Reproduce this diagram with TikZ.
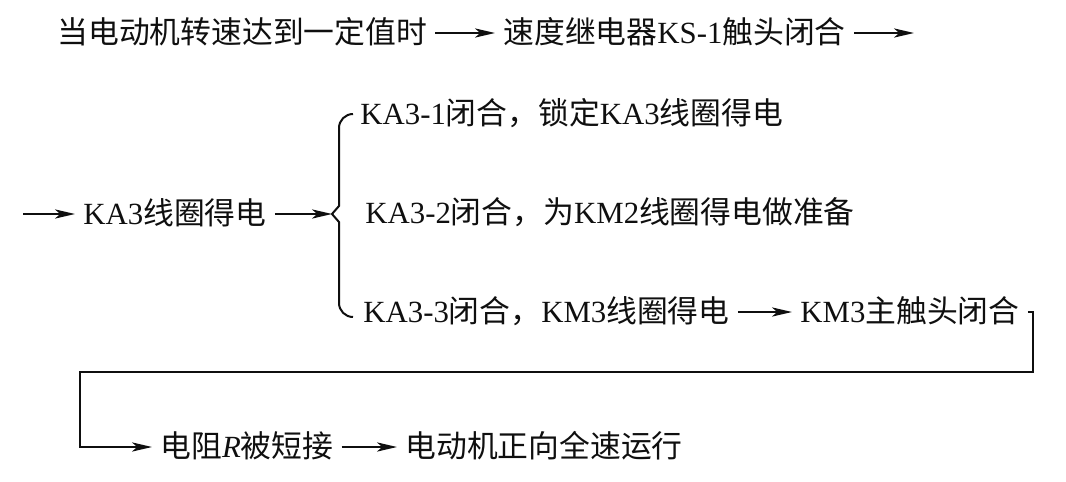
\documentclass[tikz,border=0pt]{standalone}
\usepackage{fontspec}
\usepackage{xcolor}
\usepackage{tikz}
\usetikzlibrary{arrows.meta, positioning, calc}
\setmainfont{Liberation Serif}
\newfontfamily\cjk{Noto Sans CJK SC}
\newcommand{\zh}[1]{{\cjk #1}}
\definecolor{FlowInk}{RGB}{15, 15, 15}

\tikzset{
  flowtxt/.style={inner sep=0pt, inner xsep=4pt, anchor=west,
    text height=13pt, text depth=2.5pt, text=FlowInk,
    font=\fontsize{15.4}{18}\selectfont},
  flowarr/.style={-{Stealth[length=10pt, width=4.6pt, inset=2.6pt]},
    line width=0.9pt, draw=FlowInk}
}

\begin{document}
\begin{tikzpicture}[x=0.5pt, y=-0.5pt]
    \useasboundingbox (0,0) rectangle (1066,482);

    % first row
    \node[flowtxt] (speedup) at (49,33) {\zh{当电动机转速达到一定值时}};
    \node[flowtxt] (ksone) at (495,33) {\zh{速度继电器}KS-1\zh{触头闭合}};
    \coordinate (rowend) at (914,33);
    \draw[flowarr] (speedup) -- (ksone);
    \draw[flowarr] (ksone) -- (rowend);

    % second row with the brace
    \coordinate (rowstart) at (23,214);
    \node[flowtxt] (kacoil) at (75,214) {KA3\zh{线圈得电}};
    \coordinate (tip) at (332,214);
    \draw[flowarr] (rowstart) -- (kacoil);
    \draw[flowarr] (kacoil) -- (tip);
    \draw[line width=1pt, draw=FlowInk]
      (353,114) to[out=180, in=90] (339,128) -- (339,206) -- (tip)
      -- (339,222) -- (339,303) to[out=-90, in=180] (353,317);

    \node[flowtxt] (kaone) at (352,114) {KA3-1\zh{闭合，锁定}KA3\zh{线圈得电}};
    \node[flowtxt] (katwo) at (357,213) {KA3-2\zh{闭合，为}KM2\zh{线圈得电做准备}};
    \node[flowtxt] (kathree) at (355,312) {KA3-3\zh{闭合，}KM3\zh{线圈得电}};
    \node[flowtxt] (kmmain) at (792,312) {KM3\zh{主触头闭合}};
    \draw[flowarr] (kathree) -- (kmmain);

    % return line and last row
    \coordinate (backright) at (1033,372);
    \coordinate (backleft) at (80,372);
    \node[flowtxt] (shorted) at (152,447) {\zh{电阻}\textit{R}\zh{被短接}};
    \node[flowtxt] (fullrun) at (397,447) {\zh{电动机正向全速运行}};
    \draw[flowarr] (kmmain.east) -| (backright) -- (backleft) |- (shorted.west);
    \draw[flowarr] (shorted) -- (fullrun);
\end{tikzpicture}
\end{document}
